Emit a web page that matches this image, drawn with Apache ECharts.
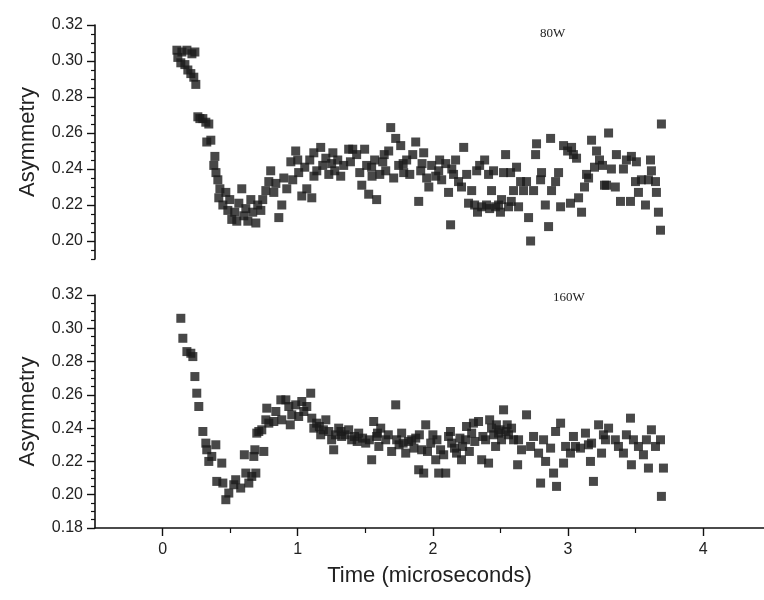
<!DOCTYPE html>
<html>
<head>
<meta charset="utf-8">
<script src="https://cdn.jsdelivr.net/npm/echarts@6/dist/echarts.min.js"></script>
<style>
html, body { margin:0; padding:0; background:#fff; }
#chart { width:764px; height:600px; }
</style>
</head>
<body>
<div id="chart"></div>
<script type="text/javascript">
// [time (microseconds), asymmetry]
var data80W = [
    [0.106,0.306],[0.113,0.302],[0.135,0.299],[0.143,0.305],[0.165,0.298],[0.18,0.306],[0.187,0.295],[0.209,0.293],
    [0.217,0.304],[0.231,0.291],[0.239,0.305],[0.246,0.287],[0.261,0.269],[0.276,0.268],[0.298,0.268],[0.32,0.266],
    [0.327,0.255],[0.342,0.265],[0.357,0.256],[0.379,0.242],[0.387,0.247],[0.395,0.238],[0.409,0.234],[0.416,0.224],
    [0.424,0.229],[0.446,0.22],[0.468,0.227],[0.483,0.217],[0.497,0.223],[0.512,0.212],[0.534,0.216],[0.549,0.211],
    [0.564,0.221],[0.586,0.229],[0.601,0.214],[0.616,0.218],[0.631,0.211],[0.653,0.223],[0.667,0.216],[0.69,0.21],
    [0.704,0.22],[0.727,0.217],[0.741,0.223],[0.764,0.228],[0.786,0.233],[0.8,0.239],[0.823,0.227],[0.838,0.232],
    [0.86,0.213],[0.882,0.22],[0.897,0.235],[0.919,0.229],[0.949,0.244],[0.963,0.234],[0.985,0.25],[1.0,0.245],
    [1.007,0.238],[1.03,0.225],[1.052,0.241],[1.067,0.229],[1.089,0.245],[1.104,0.224],[1.119,0.249],[1.12,0.236],
    [1.141,0.239],[1.17,0.252],[1.185,0.242],[1.208,0.246],[1.23,0.237],[1.251,0.243],[1.26,0.249],[1.274,0.239],
    [1.296,0.245],[1.318,0.236],[1.34,0.242],[1.377,0.251],[1.39,0.244],[1.407,0.251],[1.436,0.248],[1.459,0.238],
    [1.474,0.231],[1.495,0.251],[1.51,0.242],[1.525,0.226],[1.547,0.241],[1.55,0.236],[1.569,0.245],[1.584,0.223],
    [1.607,0.237],[1.629,0.244],[1.64,0.248],[1.651,0.239],[1.673,0.25],[1.688,0.263],[1.71,0.235],[1.725,0.257],
    [1.747,0.242],[1.762,0.253],[1.78,0.243],[1.784,0.238],[1.806,0.245],[1.829,0.237],[1.851,0.248],[1.873,0.255],
    [1.895,0.222],[1.91,0.239],[1.92,0.243],[1.932,0.249],[1.954,0.235],[1.97,0.23],[1.991,0.242],[2.021,0.236],
    [2.043,0.239],[2.05,0.245],[2.065,0.234],[2.095,0.243],[2.116,0.227],[2.131,0.209],[2.14,0.24],[2.153,0.237],
    [2.168,0.245],[2.19,0.233],[2.212,0.23],[2.228,0.252],[2.25,0.237],[2.264,0.221],[2.287,0.228],[2.309,0.22],
    [2.324,0.239],[2.33,0.216],[2.346,0.242],[2.361,0.219],[2.383,0.245],[2.397,0.22],[2.412,0.237],[2.42,0.218],
    [2.434,0.228],[2.449,0.239],[2.464,0.219],[2.486,0.22],[2.5,0.216],[2.508,0.223],[2.523,0.238],[2.538,0.248],
    [2.56,0.219],[2.575,0.238],[2.58,0.222],[2.597,0.228],[2.619,0.241],[2.634,0.219],[2.649,0.233],[2.671,0.228],
    [2.693,0.233],[2.708,0.213],[2.723,0.2],[2.745,0.228],[2.76,0.248],[2.767,0.254],[2.797,0.234],[2.804,0.238],
    [2.832,0.22],[2.856,0.208],[2.871,0.257],[2.878,0.228],[2.908,0.233],[2.93,0.238],[2.945,0.219],[2.967,0.253],
    [2.997,0.25],[3.018,0.221],[3.026,0.252],[3.04,0.248],[3.063,0.246],[3.078,0.224],[3.1,0.216],[3.122,0.23],
    [3.137,0.237],[3.152,0.235],[3.174,0.256],[3.196,0.241],[3.211,0.25],[3.233,0.245],[3.255,0.242],[3.27,0.231],
    [3.285,0.231],[3.3,0.26],[3.321,0.24],[3.35,0.23],[3.358,0.248],[3.388,0.222],[3.41,0.24],[3.432,0.245],
    [3.462,0.222],[3.469,0.247],[3.499,0.233],[3.506,0.244],[3.521,0.227],[3.543,0.234],[3.573,0.22],[3.595,0.234],
    [3.61,0.245],[3.617,0.239],[3.647,0.233],[3.654,0.227],[3.669,0.216],[3.684,0.206],[3.691,0.265]
];

var data160W = [
    [0.135,0.306],[0.15,0.294],[0.18,0.286],[0.209,0.285],[0.224,0.283],[0.239,0.271],[0.253,0.261],[0.268,0.253],
    [0.298,0.238],[0.32,0.231],[0.327,0.227],[0.342,0.22],[0.364,0.223],[0.394,0.23],[0.401,0.208],[0.438,0.219],
    [0.446,0.207],[0.468,0.197],[0.49,0.201],[0.527,0.206],[0.541,0.209],[0.578,0.204],[0.605,0.224],[0.616,0.213],
    [0.638,0.207],[0.66,0.211],[0.675,0.223],[0.683,0.227],[0.69,0.213],[0.697,0.237],[0.712,0.238],[0.734,0.239],
    [0.749,0.226],[0.764,0.245],[0.771,0.252],[0.786,0.243],[0.823,0.244],[0.838,0.25],[0.875,0.257],[0.882,0.245],
    [0.912,0.257],[0.934,0.253],[0.945,0.242],[0.956,0.248],[0.985,0.254],[1.007,0.247],[1.03,0.256],[1.045,0.25],
    [1.067,0.253],[1.096,0.261],[1.104,0.246],[1.119,0.24],[1.14,0.243],[1.16,0.241],[1.17,0.236],[1.19,0.239],
    [1.208,0.245],[1.23,0.238],[1.251,0.233],[1.266,0.227],[1.28,0.236],[1.303,0.24],[1.32,0.238],[1.325,0.235],
    [1.35,0.236],[1.377,0.239],[1.399,0.233],[1.42,0.235],[1.44,0.232],[1.451,0.237],[1.48,0.234],[1.503,0.231],
    [1.53,0.233],[1.547,0.221],[1.562,0.244],[1.584,0.235],[1.59,0.237],[1.6,0.229],[1.614,0.24],[1.651,0.233],
    [1.67,0.236],[1.695,0.226],[1.725,0.254],[1.732,0.233],[1.75,0.23],[1.769,0.237],[1.78,0.231],[1.799,0.225],
    [1.82,0.232],[1.843,0.233],[1.86,0.228],[1.873,0.234],[1.895,0.215],[1.9,0.236],[1.917,0.227],[1.932,0.213],
    [1.947,0.242],[1.96,0.226],[1.984,0.231],[2.0,0.236],[2.021,0.221],[2.03,0.233],[2.043,0.213],[2.057,0.227],
    [2.08,0.224],[2.095,0.213],[2.116,0.235],[2.13,0.238],[2.139,0.231],[2.16,0.228],[2.175,0.225],[2.2,0.234],
    [2.212,0.221],[2.22,0.229],[2.242,0.233],[2.249,0.241],[2.27,0.226],[2.287,0.237],[2.3,0.243],[2.31,0.232],
    [2.338,0.244],[2.361,0.221],[2.37,0.235],[2.39,0.233],[2.412,0.219],[2.42,0.245],[2.434,0.24],[2.45,0.236],
    [2.464,0.229],[2.47,0.242],[2.486,0.237],[2.497,0.239],[2.508,0.233],[2.523,0.251],[2.54,0.238],[2.55,0.242],
    [2.56,0.236],[2.582,0.24],[2.597,0.233],[2.627,0.218],[2.634,0.233],[2.656,0.227],[2.693,0.248],[2.723,0.229],
    [2.745,0.235],[2.782,0.225],[2.797,0.207],[2.819,0.233],[2.834,0.22],[2.871,0.228],[2.893,0.213],[2.908,0.238],
    [2.915,0.205],[2.945,0.243],[2.967,0.219],[2.982,0.229],[3.018,0.225],[3.04,0.235],[3.055,0.229],[3.092,0.228],
    [3.129,0.237],[3.151,0.23],[3.166,0.22],[3.174,0.231],[3.188,0.208],[3.226,0.242],[3.248,0.225],[3.262,0.236],
    [3.277,0.233],[3.3,0.24],[3.35,0.233],[3.373,0.229],[3.41,0.225],[3.432,0.236],[3.462,0.246],[3.469,0.218],
    [3.484,0.233],[3.521,0.229],[3.558,0.224],[3.58,0.233],[3.595,0.216],[3.617,0.239],[3.647,0.229],[3.684,0.233],
    [3.691,0.199],[3.706,0.216]
];

var timeTicks = [0, 1, 2, 3, 4];
var timeMinorTicks = [0.5, 1.5, 2.5, 3.5];
var topTicks = [0.20, 0.22, 0.24, 0.26, 0.28, 0.30, 0.32];
var topMinorTicks = [0.19, 0.195, 0.205, 0.21, 0.215, 0.225, 0.23, 0.235, 0.245, 0.25, 0.255,
    0.265, 0.27, 0.275, 0.285, 0.29, 0.295, 0.305, 0.31, 0.315];
var bottomTicks = [0.18, 0.20, 0.22, 0.24, 0.26, 0.28, 0.30, 0.32];
var bottomMinorTicks = [0.185, 0.19, 0.195, 0.205, 0.21, 0.215, 0.225, 0.23, 0.235, 0.245, 0.25, 0.255,
    0.265, 0.27, 0.275, 0.285, 0.29, 0.295, 0.305, 0.31, 0.315];

var axisColor = '#111';
var labelFont = 'Liberation Sans, Arial, sans-serif';

function majorY(gridIndex, min, ticks) {
    return {
        gridIndex: gridIndex, type: 'value', min: min, max: 0.32, position: 'left',
        name: 'Asymmetry',
        nameLocation: 'middle', nameGap: 56, nameRotate: 90,
        nameTextStyle: { fontFamily: labelFont, fontSize: 22, color: '#222' },
        axisLine: { show: true, onZero: false, lineStyle: { color: axisColor, width: 1.6 } },
        axisTick: { show: true, customValues: ticks, length: 8, lineStyle: { color: axisColor, width: 1.4 } },
        axisLabel: { customValues: ticks, margin: 12, fontFamily: labelFont, fontSize: 16, color: '#222',
            formatter: function (v) { return v.toFixed(2); } },
        splitLine: { show: false }
    };
}
function minorY(gridIndex, min, ticks) {
    return {
        gridIndex: gridIndex, type: 'value', min: min, max: 0.32, position: 'left',
        axisLine: { show: false, onZero: false },
        axisTick: { show: true, customValues: ticks, length: 4, lineStyle: { color: axisColor, width: 1.2 } },
        axisLabel: { show: false },
        splitLine: { show: false }
    };
}

var chart = echarts.init(document.getElementById('chart'));
var option = {
    backgroundColor: '#fff',
    animation: false,
    grid: [
        { left: 95, top: 25, width: 669, height: 234 },
        { left: 95, top: 295, width: 669, height: 233 }
    ],
    xAxis: [
        { gridIndex: 0, type: 'value', min: -0.5, max: 4.45, show: false },
        {
            gridIndex: 1, type: 'value', min: -0.5, max: 4.45, position: 'bottom',
            name: 'Time (microseconds)', nameLocation: 'middle', nameGap: 37,
            nameTextStyle: { fontFamily: labelFont, fontSize: 22, color: '#222' },
            axisLine: { show: true, onZero: false, lineStyle: { color: axisColor, width: 1.6 } },
            axisTick: { show: true, customValues: timeTicks, length: 8, lineStyle: { color: axisColor, width: 1.4 } },
            axisLabel: { customValues: timeTicks, margin: 14, fontFamily: labelFont, fontSize: 16, color: '#222' },
            splitLine: { show: false }
        },
        {
            gridIndex: 1, type: 'value', min: -0.5, max: 4.45, position: 'bottom',
            axisLine: { show: false, onZero: false },
            axisTick: { show: true, customValues: timeMinorTicks, length: 5, lineStyle: { color: axisColor, width: 1.2 } },
            axisLabel: { show: false },
            splitLine: { show: false }
        }
    ],
    yAxis: [
        majorY(0, 0.19, topTicks),
        minorY(0, 0.19, topMinorTicks),
        majorY(1, 0.18, bottomTicks),
        minorY(1, 0.18, bottomMinorTicks)
    ],
    graphic: [
        { type: 'text', left: 540, top: 27, style: { text: '80W', font: '13px "Liberation Serif", serif', fill: '#222' } },
        { type: 'text', left: 553, top: 291, style: { text: '160W', font: '13px "Liberation Serif", serif', fill: '#222' } }
    ],
    series: [
        {
            name: '80W', type: 'scatter', xAxisIndex: 0, yAxisIndex: 0,
            symbol: 'rect', symbolSize: 9,
            itemStyle: { color: '#1a1a1a' },
            data: data80W
        },
        {
            name: '160W', type: 'scatter', xAxisIndex: 1, yAxisIndex: 2,
            symbol: 'rect', symbolSize: 9,
            itemStyle: { color: '#1a1a1a' },
            data: data160W
        }
    ]
};
chart.setOption(option);
</script>
</body>
</html>
